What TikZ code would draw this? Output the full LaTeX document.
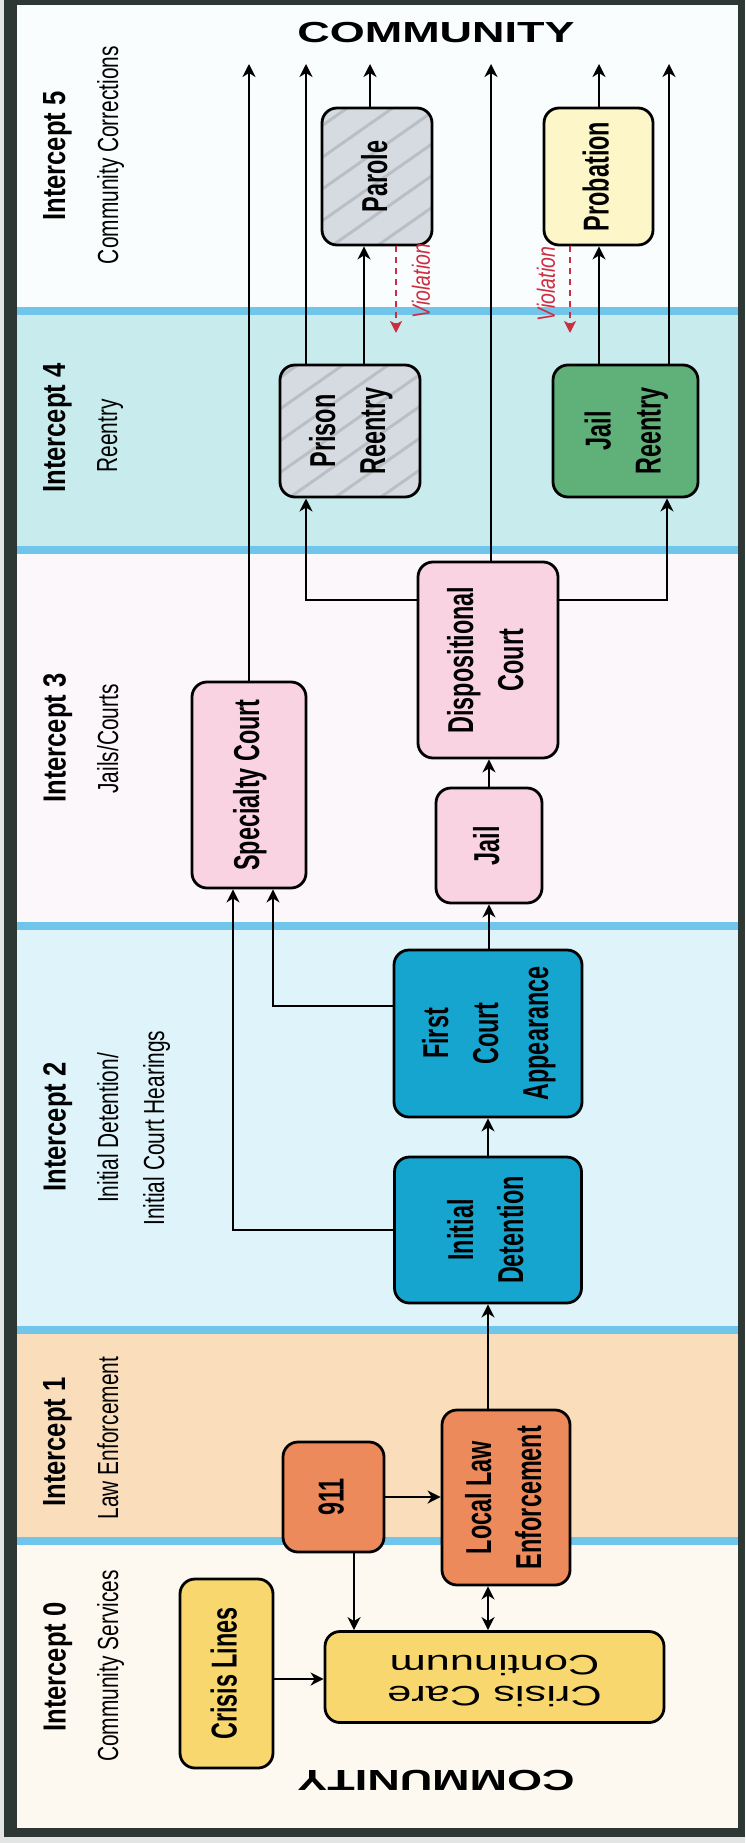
\documentclass[tikz,border=0pt]{standalone}
\usepackage{graphicx}
\usepackage{fontspec}
\setmainfont{Liberation Sans}
\newfontfamily\bxff{Liberation Sans}[FakeStretch=0.65]
\newfontfamily\intff{Liberation Sans}[FakeStretch=0.8]
\newfontfamily\subff{Liberation Sans}[FakeStretch=0.72]
\newfontfamily\wideff{Liberation Sans}[FakeStretch=1.55]
\newfontfamily\violff{Liberation Sans}[FakeStretch=0.78]
\usepackage{tikz}
\usetikzlibrary{arrows.meta,patterns.meta}
\usepackage{xcolor}
\definecolor{outergray}{RGB}{226,229,227}
\definecolor{framedark}{RGB}{45,55,52}
\definecolor{bandfive}{RGB}{250,253,253}
\definecolor{bandfour}{RGB}{200,236,238}
\definecolor{bandthree}{RGB}{252,247,250}
\definecolor{bandtwo}{RGB}{222,244,250}
\definecolor{bandone}{RGB}{250,221,186}
\definecolor{bandzero}{RGB}{254,249,240}
\definecolor{divblue}{RGB}{112,197,234}
\definecolor{crisisyel}{RGB}{248,215,110}
\definecolor{lawor}{RGB}{236,138,92}
\definecolor{courtblue}{RGB}{22,165,206}
\definecolor{jailpink}{RGB}{249,211,226}
\definecolor{prisongray}{RGB}{214,219,226}
\definecolor{hatchgray}{RGB}{186,191,198}
\definecolor{reentrygreen}{RGB}{96,176,122}
\definecolor{probyel}{RGB}{252,246,200}
\definecolor{violred}{RGB}{205,45,65}
\newcommand{\bxfont}{\bxff\bfseries\fontsize{36}{50}\selectfont}
\newcommand{\rottext}[1]{\rotatebox{90}{\bxfont\begin{tabular}{@{}c@{}}#1\end{tabular}}}
\tikzstyle{arrow} = [line width=2.5pt,-{Stealth[length=13pt,width=13pt,inset=4pt]}]
\tikzstyle{arrowboth} = [line width=2.5pt,{Stealth[length=13pt,width=13pt,inset=4pt]}-{Stealth[length=13pt,width=13pt,inset=4pt]}]
\tikzstyle{violation} = [line width=2.5pt,violred,dash pattern=on 6pt off 5pt,-{Stealth[length=12pt,width=12pt,inset=3pt]}]
\tikzstyle{box} = [draw=black,line width=2.8pt,rounded corners=15pt,inner sep=0pt]
\tikzstyle{hatched} = [preaction={fill=prisongray},pattern={Lines[angle=35,distance=26pt,line width=3pt]},pattern color=hatchgray]
\tikzstyle{intlabel} = [rotate=90,anchor=north,inner sep=0pt,font=\intff\bfseries\fontsize{32}{40}\selectfont]
\tikzstyle{sublabel} = [rotate=90,anchor=north,inner sep=0pt,font=\subff\fontsize{29}{46}\selectfont]
\tikzstyle{violtxt} = [rotate=90,inner sep=0pt,text=violred,font=\violff\itshape\fontsize{25}{30}\selectfont]

\begin{document}
\begin{tikzpicture}[x=1pt,y=-1pt]
\useasboundingbox (0,0) rectangle (745,1843);
% frame and bands
\fill[outergray] (0,0) rectangle (745,1843);
\fill[framedark] (4,0) rectangle (745,1837);
\fill[bandfive] (17,5) rectangle (738,311);
\fill[bandfour] (17,311) rectangle (738,550);
\fill[bandthree] (17,550) rectangle (738,926);
\fill[bandtwo] (17,926) rectangle (738,1330);
\fill[bandone] (17,1330) rectangle (738,1541);
\fill[bandzero] (17,1541) rectangle (738,1828);
\foreach \y in {311,550,926,1330,1541}
  \draw[line width=8pt,divblue] (17,\y) -- (738,\y);

% community
\node[inner sep=0pt,font=\wideff\bfseries\fontsize{29}{34}\selectfont] (commtop) at (436,32.5) {COMMUNITY};
\node[inner sep=0pt,rotate=180,font=\wideff\bfseries\fontsize{29}{34}\selectfont] (commbot) at (436,1780) {COMMUNITY};

% intercept labels
\node[intlabel] (int5) at (43,156) {Intercept 5};
\node[sublabel] (sub5) at (97,155) {Community Corrections};
\node[intlabel] (int4) at (43,428) {Intercept 4};
\node[sublabel] (sub4) at (97,436) {Reentry};
\node[intlabel] (int3) at (43,738) {Intercept 3};
\node[sublabel] (sub3) at (97,739) {Jails/Courts};
\node[intlabel] (int2) at (43,1127) {Intercept 2};
\node[sublabel,align=center] (sub2) at (97,1128) {Initial Detention/\\Initial Court Hearings};
\node[intlabel] (int1) at (43,1442) {Intercept 1};
\node[sublabel] (sub1) at (97,1438) {Law Enforcement};
\node[intlabel] (int0) at (43,1667) {Intercept 0};
\node[sublabel] (sub0) at (97,1666) {Community Services};

% intercept 0 and 1
\node[box,fill=crisisyel,minimum width=93pt,minimum height=189pt] (crisislines) at (226.5,1673.5) {\rottext{Crisis Lines}};
\node[box,fill=crisisyel,minimum width=339pt,minimum height=91pt] (crisiscare) at (494.5,1677)
  {\rotatebox{180}{\wideff\fontsize{28}{31}\selectfont\begin{tabular}{@{}c@{}}Crisis Care\\Continuum\end{tabular}}};
\node[box,fill=lawor,minimum width=101pt,minimum height=110pt] (n911) at (333.5,1497) {\rottext{911}};
\node[box,fill=lawor,minimum width=128pt,minimum height=175pt] (lle) at (506,1497.5) {\rottext{Local Law\\Enforcement}};

% intercept 2
\node[box,fill=courtblue,minimum width=187pt,minimum height=146pt] (initdet) at (488,1230) {\rottext{Initial\\Detention}};
\node[box,fill=courtblue,minimum width=188pt,minimum height=167pt] (firstcourt) at (488,1033.5) {\rottext{First\\Court\\Appearance}};

% intercept 3
\node[box,fill=jailpink,minimum width=114pt,minimum height=206pt] (specialty) at (249,785) {\rottext{Specialty Court}};
\node[box,fill=jailpink,minimum width=106pt,minimum height=115pt] (jail) at (489,845.5) {\rottext{Jail}};
\node[box,fill=jailpink,minimum width=140pt,minimum height=196pt] (dispo) at (488,660) {\rottext{Dispositional\\Court}};

% intercept 4 and 5
\node[box,hatched,minimum width=140pt,minimum height=132pt] (prisonre) at (350,431) {\rottext{Prison\\Reentry}};
\node[box,fill=reentrygreen,minimum width=145pt,minimum height=132pt] (jailre) at (625.5,431) {\rottext{Jail\\Reentry}};
\node[box,hatched,minimum width=110pt,minimum height=137pt] (parole) at (377,176.5) {\rottext{Parole}};
\node[box,fill=probyel,minimum width=109pt,minimum height=137pt] (probation) at (598.5,176.5) {\rottext{Probation}};

% exits to community
\coordinate (out1) at (249,64);
\coordinate (out2) at (306,64);
\coordinate (out3) at (370,64);
\coordinate (out4) at (491,64);
\coordinate (out5) at (599,64);
\coordinate (out6) at (669,64);
\coordinate (viol1) at (396,333);
\coordinate (viol2) at (570,333);

% connectors
\draw[arrow] ([yshift=-5.5]crisislines.east) -- ([yshift=-5.5]crisislines.east -| crisiscare.west);
\draw[arrow] ([xshift=20.5]n911.south) -- ([xshift=20.5]n911.south |- crisiscare.north);
\draw[arrow] (n911.east) -- (n911.east -| lle.west);
\draw[arrowboth] (lle.south -| initdet) -- (crisiscare.north -| initdet);
\draw[arrow] (lle.north -| initdet) -- (initdet.south);
\draw[arrow] (initdet.north) -- (firstcourt.south);
\draw[arrow] (initdet.west) -| ([xshift=-16]specialty.south);
\draw[arrow] ([yshift=27.5]firstcourt.west) -| ([xshift=24]specialty.south);
\draw[arrow] (jail.south |- firstcourt.north) -- (jail.south);
\draw[arrow] (jail.north) -- (jail.north |- dispo.south);
\draw[arrow] ([yshift=60]dispo.west) -| ([xshift=-44]prisonre.south);
\draw[arrow] ([yshift=60]dispo.east) -| ([xshift=41.5]jailre.south);
\draw[arrow] ([xshift=14]prisonre.north) -- ([xshift=-13]parole.south);
\draw[arrow] (jailre.north -| out5) -- (out5 |- probation.south);
\draw[arrow] (specialty.north) -- (out1);
\draw[arrow] (prisonre.north -| out2) -- (out2);
\draw[arrow] (parole.north -| out3) -- (out3);
\draw[arrow] (dispo.north -| out4) -- (out4);
\draw[arrow] (probation.north -| out5) -- (out5);
\draw[arrow] (jailre.north -| out6) -- (out6);

% violations
\draw[violation] (parole.south -| viol1) -- (viol1);
\draw[violation] (probation.south -| viol2) -- (viol2);
\node[violtxt] (vlab1) at (421,281) {Violation};
\node[violtxt] (vlab2) at (546,284) {Violation};
\end{tikzpicture}
\end{document}
